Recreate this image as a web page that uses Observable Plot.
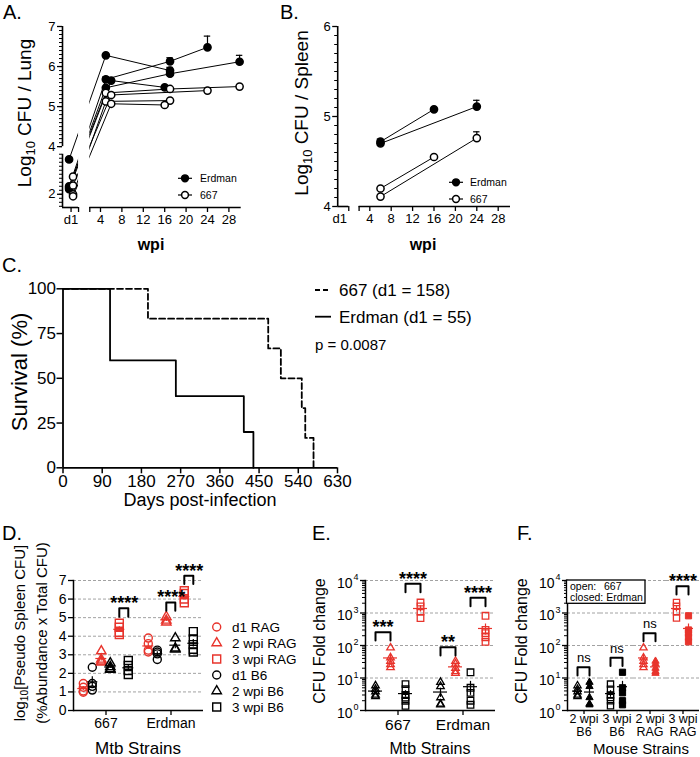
<!DOCTYPE html>
<html><head><meta charset="utf-8">
<script src="https://cdn.jsdelivr.net/npm/d3@7"></script>
<script src="https://cdn.jsdelivr.net/npm/@observablehq/plot@0.6"></script>
<style>
html,body{margin:0;padding:0;background:#fff;}
#fig{position:relative;width:700px;height:757px;overflow:hidden;background:#fff;}
.panel{position:absolute;}
#overlay{position:absolute;left:0;top:0;pointer-events:none;}
</style></head><body><div id="fig"></div>
<script>
const FONT = "'Liberation Sans', Arial, Helvetica, sans-serif";
const RED = "#e8342c";
const BLACK = "#000000";

// ---------- Panel A: lung CFU (log10) per mouse series ----------
const lungStrain = ["Erdman","Erdman","Erdman","Erdman","667","667","667","667"];
const lungWpi = [["d1",5,17],["d1",5,17,24],["d1",5,17,30],["d1",6,16],["d1",5,17,30],["d1",6,24],["d1",5,17],["d1",6,16]];
const lungLog10 = [[2.87,6.28,5.90],[2.20,5.68,6.13,6.48],[2.17,5.47,5.82,6.12],[2.13,5.65,5.48],[2.44,5.34,5.44,5.50],[2.22,5.29,5.40],[2.00,5.13,5.15],[1.95,5.07,5.04]];
const lungSem = [[0,0,0.08],[0,0.06,0.09,0.28],[0,0,0,0.16],[0,0,0.03],[0,0,0.03,0],[0,0,0],[0,0,0],[0,0,0]];
const wpiTicks = [4,8,12,16,20,24,28];

// ---------- Panel B: spleen CFU (log10) ----------
const spleenStrain = ["Erdman","Erdman","667","667"];
const spleenWpi = [[6,16],[6,24],[6,16],[6,24]];
const spleenLog10 = [[4.72,5.08],[4.70,5.11],[4.20,4.55],[4.11,4.76]];
const spleenSem = [[0.03,0],[0,0.07],[0,0],[0,0.07]];

// ---------- Panel C: survival ----------
const survDays667 = [0,195,471,500,548,556,575];
const survPct667 = [100,83.3,66.7,50,33.3,16.7,0];
const survDaysErdman = [0,108,259,415,437];
const survPctErdman = [100,60,40,20,0];
const survXTicks = [0,90,180,270,360,450,540,630];
const survYTicks = [0,25,50,75,100];

// ---------- Panel D: pseudo spleen CFU ----------
const strains = ["667","Erdman"];
const dGroups = ["d1 RAG","d1 B6","2 wpi RAG","2 wpi B6","3 wpi RAG","3 wpi B6"];
const pseudo667 = [[1.45,1.25,1.05,0.98],[2.33,1.45,1.30,1.10],[3.20,2.75,2.65,2.60],[2.55,2.35,2.25,2.20],[4.70,4.48,4.21,4.09],[2.69,2.42,2.15,1.94]];
const pseudoErdman = [[3.90,3.60,3.25,3.15],[3.25,3.15,3.05,2.75],[5.05,4.85,4.75],[3.90,3.35,3.30],[6.45,6.30,6.00,5.80],[4.25,3.85,3.55,3.30,3.15]];
const dSigStrain = ["667","Erdman","Erdman"];
const dSigPair = [["3 wpi RAG","3 wpi B6"],["2 wpi RAG","2 wpi B6"],["3 wpi RAG","3 wpi B6"]];
const dSigLabel = ["****","****","****"];
const dSigTop = [5.5,5.82,7.26];
const dLegendLabels = ["d1 RAG","2 wpi RAG","3 wpi RAG","d1 B6","2 wpi B6","3 wpi B6"];

// ---------- Panels E & F: CFU fold change ----------
const eGroups = ["2 wpi B6","2 wpi RAG","3 wpi B6","3 wpi RAG"];
const fGroups = ["2 wpi B6","3 wpi B6","2 wpi RAG","3 wpi RAG"];
const fold667 = [[5.8,4.5,3.8,3.0,2.7],[85,42,33,26,21],[6.5,4.5,3.0,2.5,2.0,1.4],[2100,1600,1100,700]];
const foldErdman = [[7.4,5.5,2.5,1.6,1.5],[33,27,20,16,14],[15,5,3.5,2,1.5],[820,300,240,180,130]];
const eSigStrain = ["667","667","Erdman","Erdman"];
const eSigPair = [["2 wpi B6","2 wpi RAG"],["3 wpi B6","3 wpi RAG"],["2 wpi B6","2 wpi RAG"],["3 wpi B6","3 wpi RAG"]];
const eSigLabel = ["***","****","**","****"];
const eSigTop = [257,7940,89,2950];
const fSigLabel = ["ns","ns","ns","****"];
const fSigTop = [21.4,41.7,240,6600];
const decades = [1,10,100,1000,10000];

// ---------- styles (kept apart from data) ----------
const dSymbol = ["circle","circle","triangle","triangle","square","square"];
const dColor = [RED,BLACK,RED,BLACK,RED,BLACK];
const dLegendSymbol = ["circle","triangle","square","circle","triangle","square"];
const dLegendColor = [RED,RED,RED,BLACK,BLACK,BLACK];
const eSymbol = ["triangle","triangle","square","square"];
const eColor = [BLACK,RED,BLACK,RED];

const fig = document.getElementById("fig");
function place(svg, left, top, w, h) {
  const d = document.createElement("div");
  d.className = "panel";
  d.style.left = left + "px"; d.style.top = top + "px";
  d.style.width = w + "px"; d.style.height = h + "px";
  d.appendChild(svg); fig.appendChild(d);
}
function baseStyle(fs) {
  return {fontFamily: FONT, fontSize: fs + "px", color: "black", background: "transparent", overflow: "visible", maxWidth: "none"};
}
const intFmt = d => String(Math.round(d));

// ================= Panel A =================
const A_D1 = -1.5, A_D1_SHIFT = {Erdman: -0.37, "667": 0.37}, A_LOWER_SHIFT = 0.81;
const aX = [-3.1, 30.3], aY = [2.48, 7], aGap = [-0.1, 2];
const aRows = [];
lungStrain.forEach((strain, i) => lungWpi[i].forEach((w, j) => {
  const d1 = w === "d1";
  aRows.push({series: i, strain, x: d1 ? A_D1 + A_D1_SHIFT[strain] : w, y: lungLog10[i][j] + (d1 ? A_LOWER_SHIFT : 0), sem: lungSem[i][j]});
}));
const aSem = aRows.filter(d => d.sem > 0);
const aUpperMinor = d3.range(40, 71).map(v => v / 10);
const aLowerMinor = d3.range(17, 31).map(v => v / 10 + A_LOWER_SHIFT);
const aMajor = [2 + A_LOWER_SHIFT, 4, 5, 6, 7];
const aYSegs = [[aY[0], 3 + A_LOWER_SHIFT], [4, 7]];
const plotA = Plot.plot({
  width: 260, height: 260, marginLeft: 62, marginRight: 19.3, marginTop: 26, marginBottom: 53,
  style: baseStyle(13),
  x: {domain: aX}, y: {domain: aY},
  marks: [
    Plot.line(aRows, {x: "x", y: "y", z: "series", stroke: "black", strokeWidth: 1}),
    Plot.rect([aGap], {x1: d => d[0], x2: d => d[1], y1: aY[0], y2: aY[1], fill: "white"}),
    Plot.ruleX(aSem, {x: "x", y1: "y", y2: d => d.y + d.sem, strokeWidth: 1.2}),
    Plot.ruleY(aSem, {y: d => d.y + d.sem, x1: d => d.x - 0.6, x2: d => d.x + 0.6, strokeWidth: 1.2}),
    Plot.dot(aRows, {x: "x", y: "y", r: 3.6, fill: d => d.strain === "Erdman" ? "black" : "white", stroke: "black", strokeWidth: 1.5}),
    Plot.ruleX(aYSegs, {x: aX[0], y1: d => d[0], y2: d => d[1], strokeWidth: 1.6}),
    Plot.ruleY([[aX[0], aGap[0]], [aGap[1], aX[1]]], {y: aY[0], x1: d => d[0], x2: d => d[1], strokeWidth: 1.6}),
    Plot.axisY({ticks: aMajor, tickSize: 5, tickPadding: 2, label: null, strokeWidth: 1.3,
      tickFormat: d => d < 3.9 ? intFmt(d - A_LOWER_SHIFT) : intFmt(d)}),
    Plot.axisY({ticks: aUpperMinor.concat(aLowerMinor), tickSize: 3, label: null, tickFormat: () => "", strokeWidth: 1}),
    Plot.axisX({ticks: wpiTicks, tickSize: 5, tickPadding: 2, label: null, strokeWidth: 1.3}),
    Plot.axisX({ticks: [A_D1], tickSize: 5, tickPadding: 2, label: null, tickFormat: () => "d1", strokeWidth: 1.3}),
    Plot.axisX({ticks: aGap, tickSize: 5, label: null, tickFormat: () => "", strokeWidth: 1.3})
  ]
});
place(plotA, 0, 0, 260, 260);

// ================= Panel B =================
const bX = [-2.0, 30.3], bY = [4, 6], bGap = [0.07, 2], B_D1 = -1.6;
const bRows = [];
spleenStrain.forEach((strain, i) => spleenWpi[i].forEach((w, j) => {
  bRows.push({series: i, strain, x: w, y: spleenLog10[i][j], sem: spleenSem[i][j]});
}));
const bSem = bRows.filter(d => d.sem > 0);
const plotB = Plot.plot({
  width: 260, height: 260, marginLeft: 67.2, marginRight: 20, marginTop: 26, marginBottom: 54,
  style: baseStyle(13),
  x: {domain: bX}, y: {domain: bY},
  marks: [
    Plot.line(bRows, {x: "x", y: "y", z: "series", stroke: "black", strokeWidth: 1}),
    Plot.ruleX(bSem, {x: "x", y1: "y", y2: d => d.y + d.sem, strokeWidth: 1.2}),
    Plot.ruleY(bSem, {y: d => d.y + d.sem, x1: d => d.x - 0.6, x2: d => d.x + 0.6, strokeWidth: 1.2}),
    Plot.dot(bRows, {x: "x", y: "y", r: 3.6, fill: d => d.strain === "Erdman" ? "black" : "white", stroke: "black", strokeWidth: 1.5}),
    Plot.ruleX([bY], {x: bX[0], y1: d => d[0], y2: d => d[1], strokeWidth: 1.6}),
    Plot.ruleY([[bX[0], bGap[0]], [bGap[1], bX[1]]], {y: bY[0], x1: d => d[0], x2: d => d[1], strokeWidth: 1.6}),
    Plot.axisY({ticks: [4, 5, 6], tickSize: 5, tickPadding: 2, label: null, strokeWidth: 1.3, tickFormat: intFmt}),
    Plot.axisY({ticks: d3.range(40, 61).map(v => v / 10), tickSize: 3, label: null, tickFormat: () => "", strokeWidth: 1}),
    Plot.axisX({ticks: wpiTicks, tickSize: 5, tickPadding: 2, label: null, strokeWidth: 1.3}),
    Plot.axisX({ticks: [B_D1], tickSize: 0, tickPadding: 7, label: null, tickFormat: () => "d1"}),
    Plot.axisX({ticks: bGap, tickSize: 5, label: null, tickFormat: () => "", strokeWidth: 1.3})
  ]
});
place(plotB, 270, 0, 260, 260);

// ================= Panel C =================
const cRows667 = survDays667.map((t, i) => ({t, s: survPct667[i]}));
const cRowsErd = survDaysErdman.map((t, i) => ({t, s: survPctErdman[i]}));
const plotC = Plot.plot({
  width: 345, height: 265, marginLeft: 62.5, marginRight: 8, marginTop: 33.3, marginBottom: 52.7,
  style: baseStyle(17),
  x: {domain: [0, 630]}, y: {domain: [0, 100]},
  marks: [
    Plot.line(cRowsErd, {x: "t", y: "s", curve: "step-after", stroke: "black", strokeWidth: 1.8}),
    Plot.line(cRows667, {x: "t", y: "s", curve: "step-after", stroke: "black", strokeWidth: 1.8, strokeDasharray: "6,3"}),
    Plot.ruleX([0], {strokeWidth: 1.8}),
    Plot.ruleY([0], {strokeWidth: 1.8}),
    Plot.axisX({ticks: survXTicks, tickSize: 6, tickPadding: 1, label: null, strokeWidth: 1.5}),
    Plot.axisY({ticks: survYTicks, tickSize: 6, tickPadding: 1, label: null, strokeWidth: 1.5})
  ]
});
place(plotC, 0, 255, 345, 265);

// ---------- helpers for D/E/F ----------
function meanSem(rows, fxKey, xKey) {
  return d3.flatRollup(rows, vs => {
    const vals = vs.map(d => d.v);
    const m = d3.mean(vals), se = d3.deviation(vals) / Math.sqrt(vals.length);
    return {mean: m, lo: Math.max(m - se, d3.min(vals) * 0.9), hi: m + se, color: vs[0].color};
  }, d => d[fxKey], d => d[xKey]).map(([a, b, o]) => ({[fxKey]: a, [xKey]: b, ...o}));
}
function bracketRows(fxs, pairs, tops, legFactor, isLog) {
  const out = [];
  pairs.forEach((p, i) => {
    const leg = isLog ? tops[i] * legFactor : tops[i] - legFactor;
    [[p[0], leg], [p[0], tops[i]], [p[1], tops[i]], [p[1], leg]].forEach(([x, y]) => out.push({id: i, fx: fxs[i], x, y}));
  });
  return out;
}
function sigText(fxs, pairs, tops, labels) {
  return pairs.map((p, i) => ({fx: fxs[i], x: p[0], y: tops[i], label: labels[i]}));
}

// ================= Panel D =================
const dRows = [];
strains.forEach((s, si) => dGroups.forEach((g, gi) => (si === 0 ? pseudo667 : pseudoErdman)[gi].forEach(v =>
  dRows.push({strain: s, group: g, v, symbol: dSymbol[gi], color: dColor[gi]}))));
const dStats = meanSem(dRows, "strain", "group");
const D_W = 130.3, D_PAD = 0.5, dStep = (D_W / 2) / (dGroups.length + D_PAD);
const dR = {circle: 4, triangle: 3.5, square: 4.5};
const plotD = Plot.plot({
  width: 210, height: 217, marginLeft: 72.7, marginRight: 7, marginTop: 40, marginBottom: 47,
  style: baseStyle(14),
  fx: {domain: strains, padding: 0},
  x: {domain: dGroups, padding: D_PAD, axis: null},
  y: {domain: [0, 7]},
  r: {type: "identity"},
  marks: [
    Plot.ruleY(d3.range(1, 8), {stroke: "#8a8a8a", strokeWidth: 0.8, strokeDasharray: "3,2"}),
    Plot.ruleY([0], {strokeWidth: 1.5}),
    Plot.frame({anchor: "left", facetAnchor: "left", strokeWidth: 1.5}),
    Plot.axisY({ticks: d3.range(0, 8), tickSize: 5, tickPadding: 2, label: null, strokeWidth: 1.3, tickFormat: intFmt}),
    Plot.axisFx({anchor: "bottom", tickSize: 5, tickPadding: 3, label: null, strokeWidth: 1.3}),
    Plot.ruleX(dStats, {fx: "strain", x: "group", y1: "lo", y2: "hi", stroke: "color", strokeWidth: 1.2}),
    Plot.tickY(dStats, {fx: "strain", x: "group", y: "mean", stroke: "color", strokeWidth: 1.2, insetLeft: -3, insetRight: -3}),
    Plot.dot(dRows, {fx: "strain", x: "group", y: "v", symbol: "symbol", stroke: "color", fill: "none", r: d => dR[d.symbol], strokeWidth: 1.4}),
    Plot.line(bracketRows(dSigStrain, dSigPair, dSigTop, 0.45, false), {fx: "fx", x: "x", y: "y", z: "id", stroke: "black", strokeWidth: 2}),
    Plot.text(sigText(dSigStrain, dSigPair, dSigTop, dSigLabel), {fx: "fx", x: "x", y: "y", text: "label", dx: dStep / 2, dy: 1, lineAnchor: "bottom", fontWeight: "bold", fontSize: 18})
  ]
});
place(plotD, 0, 540, 210, 217);

// ================= Panel E =================
const eRows = [];
strains.forEach((s, si) => eGroups.forEach((g, gi) => (si === 0 ? fold667 : foldErdman)[gi].forEach(v =>
  eRows.push({strain: s, group: g, v, symbol: eSymbol[gi], color: eColor[gi]}))));
const eStats = meanSem(eRows, "strain", "group");
const E_W = 130, E_PAD = 0.33, eStep = (E_W / 2) / (eGroups.length + E_PAD);
const eR = {triangle: 2.8, square: 3.7};
const minorLog = d3.range(0, 4).flatMap(k => d3.range(2, 10).map(m => m * Math.pow(10, k)));
function logAxisMarks(firstFacet) {
  return [
    Plot.ruleY([10, 100, 1000, 10000], {stroke: "#8a8a8a", strokeWidth: 0.8, strokeDasharray: "3,2"}),
    Plot.ruleY([1], {strokeWidth: 1.5}),
    Plot.frame({anchor: "left", facetAnchor: "left", strokeWidth: 1.5}),
    Plot.axisY({ticks: decades, tickSize: 5, label: null, tickFormat: () => "", strokeWidth: 1.3}),
    Plot.axisY({ticks: minorLog, tickSize: 3, label: null, tickFormat: () => "", strokeWidth: 1}),
    Plot.text(decades, {fx: () => firstFacet, y: d => d, text: () => "10", frameAnchor: "left", textAnchor: "end", dx: -13, dy: 3, fontSize: 14}),
    Plot.text(decades, {fx: () => firstFacet, y: d => d, text: d => String(Math.round(Math.log10(d))), frameAnchor: "left", textAnchor: "start", dx: -12, dy: -3, fontSize: 9})
  ];
}
const plotE = Plot.plot({
  width: 200, height: 217, marginLeft: 65, marginRight: 5, marginTop: 40, marginBottom: 47,
  style: baseStyle(15.5),
  fx: {domain: strains, padding: 0},
  x: {domain: eGroups, padding: E_PAD, axis: null},
  y: {type: "log", domain: [1, 10000]},
  r: {type: "identity"},
  marks: [
    ...logAxisMarks("667"),
    Plot.axisFx({anchor: "bottom", tickSize: 5, tickPadding: 3, label: null, strokeWidth: 1.3}),
    Plot.ruleX(eStats, {fx: "strain", x: "group", y1: "lo", y2: "hi", stroke: "color", strokeWidth: 1.2}),
    Plot.tickY(eStats, {fx: "strain", x: "group", y: "mean", stroke: "color", strokeWidth: 1.2, insetLeft: -2, insetRight: -2}),
    Plot.dot(eRows, {fx: "strain", x: "group", y: "v", symbol: "symbol", stroke: "color", fill: "none", r: d => eR[d.symbol], strokeWidth: 1.3}),
    Plot.line(bracketRows(eSigStrain, eSigPair, eSigTop, 0.55, true), {fx: "fx", x: "x", y: "y", z: "id", stroke: "black", strokeWidth: 2}),
    Plot.text(sigText(eSigStrain, eSigPair, eSigTop, eSigLabel), {fx: "fx", x: "x", y: "y", text: "label", dx: eStep / 2, dy: 1, lineAnchor: "bottom", fontWeight: "bold", fontSize: 18})
  ]
});
place(plotE, 300, 540, 200, 217);

// ================= Panel F =================
const fRows = eRows.map(d => ({...d}));
const fStats = meanSem(fRows, "group", "strain");
const F_W = 133.5, F_PAD = 0.58, fStep = (F_W / fGroups.length) / (strains.length + F_PAD);
const fR = {triangle: 2.7, square: 3.5};
const fSigPair = fGroups.map(() => strains);
const plotF = Plot.plot({
  width: 200, height: 217, marginLeft: 66.5, marginRight: 0, marginTop: 40, marginBottom: 47,
  style: baseStyle(12.5),
  fx: {domain: fGroups, padding: 0},
  x: {domain: strains, padding: F_PAD, axis: null},
  y: {type: "log", domain: [1, 10000]},
  r: {type: "identity"},
  marks: [
    ...logAxisMarks(fGroups[0]),
    Plot.axisFx({anchor: "bottom", tickSize: 4, tickPadding: 0, label: null, strokeWidth: 1.3, lineHeight: 1.0, fontSize: 12.5,
      tickFormat: d => d.replace(" wpi ", " wpi\n")}),
    Plot.ruleX(fStats, {fx: "group", x: "strain", y1: "lo", y2: "hi", stroke: "color", strokeWidth: 1.2}),
    Plot.tickY(fStats, {fx: "group", x: "strain", y: "mean", stroke: "color", strokeWidth: 1.2, insetLeft: -2.5, insetRight: -2.5}),
    Plot.dot(fRows.filter(d => d.strain === "667"), {fx: "group", x: "strain", y: "v", symbol: "symbol", stroke: "color", fill: "none", r: d => fR[d.symbol], strokeWidth: 1.3}),
    Plot.dot(fRows.filter(d => d.strain === "Erdman"), {fx: "group", x: "strain", y: "v", symbol: "symbol", stroke: "color", fill: "color", r: d => fR[d.symbol], strokeWidth: 1}),
    Plot.line(bracketRows(fGroups, fSigPair, fSigTop, 0.56, true), {fx: "fx", x: "x", y: "y", z: "id", stroke: "black", strokeWidth: 2}),
    Plot.text(sigText(fGroups, fSigPair, fSigTop, fSigLabel).filter(d => d.label !== "ns"), {fx: "fx", x: "x", y: "y", text: "label", dx: fStep / 2, dy: 1, lineAnchor: "bottom", fontWeight: "bold", fontSize: 18}),
    Plot.text(sigText(fGroups, fSigPair, fSigTop, fSigLabel).filter(d => d.label === "ns"), {fx: "fx", x: "x", y: "y", text: "label", dx: fStep / 2, dy: -5, lineAnchor: "bottom", fontSize: 13})
  ]
});
place(plotF, 500, 540, 200, 217);

// ================= Overlay: panel letters, axis titles, legends =================
const ov = d3.select("#fig").append("svg").attr("id", "overlay")
  .attr("width", 700).attr("height", 757).style("font-family", FONT);
function txt(x, y, s, fs, opts = {}) {
  const t = ov.append("text").attr("x", x).attr("y", y).attr("font-size", fs).text(s);
  if (opts.anchor) t.attr("text-anchor", opts.anchor);
  if (opts.weight) t.attr("font-weight", opts.weight);
  return t;
}
function vtxt(x, y, parts, fs) {
  const t = ov.append("text").attr("transform", `translate(${x},${y}) rotate(-90)`)
    .attr("text-anchor", "middle").attr("font-size", fs);
  parts.forEach(p => {
    const sp = t.append("tspan").text(p.t);
    if (p.sub) sp.attr("font-size", fs * 0.68).attr("dy", fs * 0.22);
    if (p.after) sp.attr("dy", -fs * 0.22);
  });
  return t;
}
txt(3, 19, "A.", 20); txt(280, 19, "B.", 20); txt(2, 272, "C.", 20);
txt(2, 540, "D.", 20); txt(312, 540, "E.", 20); txt(517, 540, "F.", 20);

vtxt(31, 113, [{t: "Log"}, {t: "10", sub: true}, {t: " CFU / Lung", after: true}], 19);
vtxt(308, 113, [{t: "Log"}, {t: "10", sub: true}, {t: " CFU / Spleen", after: true}], 19);
txt(151, 250, "wpi", 16, {anchor: "middle", weight: "bold"});
txt(423, 250, "wpi", 16, {anchor: "middle", weight: "bold"});

function lineLegend(x1, x2, y, filled, label, tx) {
  ov.append("line").attr("x1", x1).attr("x2", x2).attr("y1", y).attr("y2", y).attr("stroke", "black").attr("stroke-width", 1.2);
  ov.append("circle").attr("cx", (x1 + x2) / 2).attr("cy", y).attr("r", 3.4)
    .attr("fill", filled ? "black" : "white").attr("stroke", "black").attr("stroke-width", 1.5);
  txt(tx, y + 3.7, label, 10.5);
}
lineLegend(178, 192, 178.3, true, "Erdman", 200);
lineLegend(178, 192, 195, false, "667", 200);
lineLegend(449, 463, 182.3, true, "Erdman", 470);
lineLegend(449, 463, 199, false, "667", 470);

vtxt(27, 372, [{t: "Survival (%)"}], 22);
txt(200, 506, "Days post-infection", 18, {anchor: "middle"});
ov.append("line").attr("x1", 315).attr("x2", 331).attr("y1", 290).attr("y2", 290).attr("stroke", "black").attr("stroke-width", 1.8).attr("stroke-dasharray", "5,3");
txt(339, 296, "667 (d1 = 158)", 17);
ov.append("line").attr("x1", 315).attr("x2", 331).attr("y1", 316.7).attr("y2", 316.7).attr("stroke", "black").attr("stroke-width", 1.8);
txt(339, 322.5, "Erdman (d1 = 55)", 17);
txt(315, 350, "p = 0.0087", 15);

vtxt(25, 633, [{t: "log"}, {t: "10", sub: true}, {t: "[Pseudo Spleen CFU]", after: true}], 15);
vtxt(47, 633, [{t: "(%Abundance x Total CFU)"}], 15);
txt(138, 754, "Mtb Strains", 17, {anchor: "middle"});
const symType = {circle: d3.symbolCircle, triangle: d3.symbolTriangle, square: d3.symbolSquare};
dLegendLabels.forEach((lab, i) => {
  const y = 627 + i * 16;
  ov.append("path").attr("transform", `translate(216.7,${y})`)
    .attr("d", d3.symbol().type(symType[dLegendSymbol[i]]).size(Math.PI * Math.pow(dR[dLegendSymbol[i]], 2))())
    .attr("fill", "none").attr("stroke", dLegendColor[i]).attr("stroke-width", 1.4);
  txt(232, y + 5, lab, 13.5);
});

vtxt(325, 641, [{t: "CFU Fold change"}], 16);
txt(430, 754, "Mtb Strains", 16, {anchor: "middle"});
vtxt(527, 641, [{t: "CFU Fold change"}], 16);
txt(641, 753.5, "Mouse Strains", 15, {anchor: "middle"});
ov.append("rect").attr("x", 566.5).attr("y", 580).attr("width", 78.5).attr("height", 23.3)
  .attr("fill", "white").attr("stroke", "black").attr("stroke-width", 1.3);
txt(570, 590, "open:", 10.5); txt(604, 590, "667", 10.5);
txt(570, 601, "closed: Erdman", 10.5);
</script></body></html>
